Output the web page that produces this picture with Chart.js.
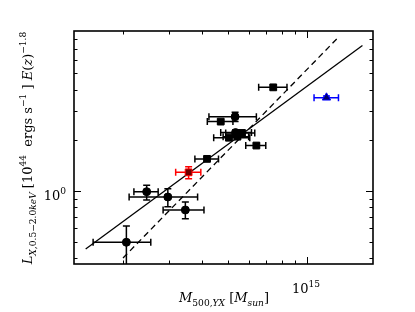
<!DOCTYPE html>
<html><head><meta charset="utf-8">
<script src="https://cdn.jsdelivr.net/npm/chart.js@4"></script>
<style>html,body{margin:0;padding:0;background:#fff;}canvas{display:block;}</style>
</head><body>
<canvas id="c" width="415" height="312"></canvas>
<script>
// ---- data ----
const circX   = [2.06e14, 2.46e14, 2.96e14, 3.45e14, 5.33e14, 5.35e14];
const circXLo = [1.54e14, 2.20e14, 2.11e14, 2.84e14, 4.24e14, 4.70e14];
const circXHi = [2.55e14, 2.72e14, 3.84e14, 4.06e14, 6.42e14, 6.15e14];
const circY   = [0.496, 0.99, 0.921, 0.771, 2.76, 2.22];
const circYLo = [0.30, 0.884, 0.807, 0.685, 2.58, 2.14];
const circYHi = [0.62, 1.08, 1.03, 0.86, 2.93, 2.30];

const sqX   = [4.17e14, 4.70e14, 5.05e14, 5.66e14, 5.44e14, 6.42e14, 7.44e14];
const sqXLo = [3.75e14, 4.18e14, 4.42e14, 4.91e14, 4.80e14, 5.85e14, 6.55e14];
const sqXHi = [4.61e14, 5.23e14, 6.06e14, 6.33e14, 6.00e14, 6.97e14, 8.39e14];
const sqY   = [1.55, 2.58, 2.07, 2.21, 2.10, 1.86, 4.12];
const sqYLo = [1.50, 2.52, 2.01, 2.15, 2.05, 1.81, 4.00];
const sqYHi = [1.60, 2.64, 2.13, 2.27, 2.16, 1.91, 4.25];

const redX = [3.55e14], redXLo = [3.17e14], redXHi = [3.95e14];
const redY = [1.29],    redYLo = [1.18],    redYHi = [1.39];

const triX = [1.185e15], triXLo = [1.063e15], triXHi = [1.316e15];
const triY = [3.58],     triYLo = [3.50],     triYHi = [3.66];

const fitSolidX  = [1.443e14, 1.623e15];
const fitSolidY  = [0.452, 7.29];
const fitDashedX = [2.0e14, 1.305e15];
const fitDashedY = [0.40, 8.07];

const xMin = 1.303e14, xMax = 1.78e15;
const yMin = 0.3685,   yMax = 8.9;
const xMajorTicks = [1e15];
const xMinorTicks = [2e14,3e14,4e14,5e14,6e14,7e14,8e14,9e14];
const yMajorTicks = [1];
const yMinorTicks = [0.4,0.5,0.6,0.7,0.8,0.9,2,3,4,5,6,7,8];

// ---- helpers ----
const pts = (xs, ys) => xs.map((x, i) => ({x, y: ys[i]}));
const FAM = '"DejaVu Serif", serif';

function layoutRich(ctx, segs, base) {
  return segs.map(s => {
    const lvl = s.l || 0;
    const size = lvl === 0 ? base : base * 0.7;
    const font = (s.i ? 'italic ' : '') + size + 'px ' + FAM;
    ctx.font = font;
    const w = ctx.measureText(s.t).width;
    const dy = lvl === 1 ? -base * 0.45 : (lvl === -1 ? base * 0.28 : 0);
    return {t: s.t, font, w, dy};
  });
}
function drawRich(ctx, segs, x, y, base, align, rotate) {
  const parts = layoutRich(ctx, segs, base);
  const total = parts.reduce((a, p) => a + p.w, 0);
  ctx.save();
  ctx.translate(x, y);
  if (rotate) ctx.rotate(-Math.PI / 2);
  let cx = align === 'center' ? -total / 2 : (align === 'right' ? -total : 0);
  ctx.fillStyle = '#000';
  ctx.textBaseline = 'alphabetic';
  ctx.textAlign = 'left';
  for (const p of parts) {
    ctx.font = p.font;
    ctx.fillText(p.t, cx, p.dy);
    cx += p.w;
  }
  ctx.restore();
}

const errGroups = [
  {x: circX, xl: circXLo, xh: circXHi, y: circY, yl: circYLo, yh: circYHi, c: '#000'},
  {x: sqX, xl: sqXLo, xh: sqXHi, y: sqY, yl: sqYLo, yh: sqYHi, c: '#000'},
  {x: redX, xl: redXLo, xh: redXHi, y: redY, yl: redYLo, yh: redYHi, c: '#ff0000'},
  {x: triX, xl: triXLo, xh: triXHi, y: triY, yl: triYLo, yh: triYHi, c: '#0000ff'},
];

const errPlugin = {
  id: 'err',
  beforeDatasetsDraw(chart) {
    const {ctx, chartArea: a, scales: {x: sx, y: sy}} = chart;
    ctx.save();
    ctx.beginPath(); ctx.rect(a.left, a.top, a.right - a.left, a.bottom - a.top); ctx.clip();
    ctx.lineWidth = 1.5;
    const cap = 3.5;
    for (const g of errGroups) {
      ctx.strokeStyle = g.c;
      for (let i = 0; i < g.x.length; i++) {
        const px = sx.getPixelForValue(g.x[i]), py = sy.getPixelForValue(g.y[i]);
        const x0 = sx.getPixelForValue(g.xl[i]), x1 = sx.getPixelForValue(g.xh[i]);
        const y0 = sy.getPixelForValue(g.yl[i]), y1 = sy.getPixelForValue(g.yh[i]);
        ctx.beginPath();
        ctx.moveTo(x0, py); ctx.lineTo(x1, py);
        ctx.moveTo(x0, py - cap); ctx.lineTo(x0, py + cap);
        ctx.moveTo(x1, py - cap); ctx.lineTo(x1, py + cap);
        ctx.moveTo(px, y0); ctx.lineTo(px, y1);
        ctx.moveTo(px - cap, y0); ctx.lineTo(px + cap, y0);
        ctx.moveTo(px - cap, y1); ctx.lineTo(px + cap, y1);
        ctx.stroke();
      }
    }
    ctx.restore();
  },
  afterDraw(chart) {
    const {ctx, chartArea: a, scales: {x: sx, y: sy}} = chart;
    ctx.save();
    ctx.strokeStyle = '#000';
    ctx.lineWidth = 1;
    const tick = (vals, len, axis) => {
      ctx.beginPath();
      for (const v of vals) {
        if (axis === 'x') {
          const p = Math.round(sx.getPixelForValue(v)) + 0.5;
          if (p < a.left || p > a.right) continue;
          ctx.moveTo(p, a.bottom); ctx.lineTo(p, a.bottom - len);
          ctx.moveTo(p, a.top); ctx.lineTo(p, a.top + len);
        } else {
          const p = Math.round(sy.getPixelForValue(v)) + 0.5;
          if (p < a.top || p > a.bottom) continue;
          ctx.moveTo(a.left, p); ctx.lineTo(a.left + len, p);
          ctx.moveTo(a.right, p); ctx.lineTo(a.right - len, p);
        }
      }
      ctx.stroke();
    };
    tick(xMajorTicks, 7, 'x'); tick(xMinorTicks, 3.5, 'x');
    tick(yMajorTicks, 7, 'y'); tick(yMinorTicks, 3.5, 'y');
    ctx.lineWidth = 1.6;
    ctx.strokeRect(a.left, a.top, a.right - a.left, a.bottom - a.top);
    ctx.restore();

    // tick labels
    const fs = 13;
    for (const v of xMajorTicks) {
      const p = sx.getPixelForValue(v);
      drawRich(ctx, [{t: '10'}, {t: String(Math.round(Math.log10(v))), l: 1}], p - 1, a.bottom + 29, fs, 'center', false);
    }
    for (const v of yMajorTicks) {
      const p = sy.getPixelForValue(v);
      drawRich(ctx, [{t: '10'}, {t: String(Math.round(Math.log10(v))), l: 1}], a.left - 8, p + 9, fs, 'right', false);
    }
    // axis titles
    drawRich(ctx, [
      {t: 'M', i: true}, {t: '500,', l: -1}, {t: 'YX', l: -1, i: true},
      {t: ' [', }, {t: 'M', i: true}, {t: 'sun', l: -1, i: true}, {t: ']'}
    ], 224, 302, 13, 'center', false);
    drawRich(ctx, [
      {t: 'L', i: true}, {t: 'X', l: -1, i: true}, {t: ',0.5\u22122.0', l: -1}, {t: 'keV', l: -1, i: true},
      {t: ' [10'}, {t: '44', l: 1}, {t: '  ergs s'}, {t: '\u22121', l: 1}, {t: ' ] '},
      {t: 'E', i: true}, {t: '('}, {t: 'z', i: true}, {t: ')'}, {t: '\u22121.8', l: 1}
    ], 32, 148, 13, 'center', true);
  }
};

new Chart(document.getElementById('c'), {
  type: 'scatter',
  data: {
    datasets: [
      {label: 'solid', type: 'line', data: pts(fitSolidX, fitSolidY), borderColor: '#000', borderWidth: 1.3,
       pointRadius: 0, fill: false, order: 5},
      {label: 'dashed', type: 'line', data: pts(fitDashedX, fitDashedY), borderColor: '#000', borderWidth: 1.3,
       borderDash: [6, 4], pointRadius: 0, fill: false, order: 5},
      {label: 'circles', data: pts(circX, circY), pointStyle: 'circle', pointRadius: 4,
       backgroundColor: '#000', borderColor: '#000', borderWidth: 1, order: 1},
      {label: 'squares', data: pts(sqX, sqY), pointStyle: 'rect', pointRadius: 4.8,
       backgroundColor: '#000', borderColor: '#000', borderWidth: 1, order: 1},
      {label: 'red', data: pts(redX, redY), pointStyle: 'rect', pointRadius: 4.8,
       backgroundColor: '#6a0000', borderColor: '#ff0000', borderWidth: 1, order: 1},
      {label: 'blue', data: pts(triX, triY), pointStyle: 'triangle', pointRadius: 4.8,
       backgroundColor: '#00006a', borderColor: '#0000ff', borderWidth: 1, order: 1}
    ]
  },
  options: {
    responsive: false,
    animation: false,
    devicePixelRatio: 1,
    layout: {padding: {left: 74, right: 42, top: 31, bottom: 48}},
    plugins: {legend: {display: false}, tooltip: {enabled: false}},
    scales: {
      x: {type: 'logarithmic', min: xMin, max: xMax, ticks: {display: false},
          grid: {display: false, drawTicks: false}, border: {display: false},
          afterFit: s => { s.height = 0; }},
      y: {type: 'logarithmic', min: yMin, max: yMax, ticks: {display: false},
          grid: {display: false, drawTicks: false}, border: {display: false},
          afterFit: s => { s.width = 0; }}
    }
  },
  plugins: [errPlugin]
});
</script>
</body></html>
